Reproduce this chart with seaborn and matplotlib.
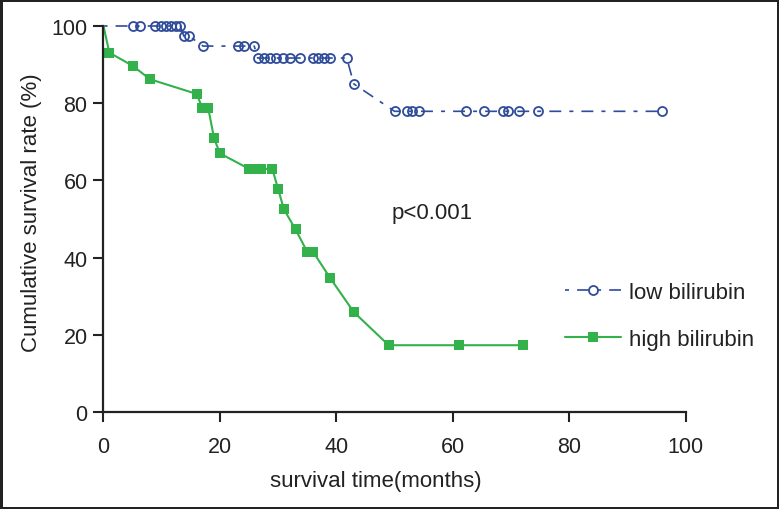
import numpy as np
import pandas as pd
import matplotlib
matplotlib.use("Agg")
import matplotlib.pyplot as plt
import seaborn as sns

# survival data (months, cumulative survival %)
low_months = [0, 5.1, 6.3, 8.8, 9.9, 10.7, 11.6, 12.5, 13.2, 13.8, 14.7,
              17.1, 23.1, 24.1, 25.9,
              26.5, 27.6, 28.6, 29.6, 30.8, 32.0, 33.8, 36.0, 36.9, 37.9, 38.9, 41.8,
              43.0,
              50.0, 52.1, 53.0, 54.2, 62.2, 65.4, 68.6, 69.5, 71.4, 74.6, 95.9]
low_surv = [100] * 9 + [97.4] * 2 + [94.8] * 4 + [91.7] * 12 + [85.0] + [77.9] * 11

high_months = [0, 1, 5, 8, 16, 17, 18, 19, 20, 25, 26, 27, 29, 30, 31, 33,
               35, 36, 39, 43, 49, 61, 72]
high_surv = [100, 93.1, 89.7, 86.2, 82.4, 78.7, 78.7, 70.9, 67.0, 63.0, 63.0,
             63.0, 63.0, 57.8, 52.5, 47.3, 41.5, 41.5, 34.6, 25.9, 17.3, 17.3, 17.3]

series_labels = ["low bilirubin", "high bilirubin"]
x_ticks = [0, 20, 40, 60, 80, 100]
y_ticks = [0, 20, 40, 60, 80, 100]

BLUE = "#2f4c9c"
GREEN = "#33b14a"
INK = "#222222"

sns.set_style("ticks")
plt.rcParams["font.family"] = ["Liberation Sans", "DejaVu Sans"]
plt.rcParams["lines.scale_dashes"] = False

fig = plt.figure(figsize=(7.79, 5.10), dpi=100)
ax = fig.add_axes([103.5 / 779, 1 - 413 / 510, 582 / 779, 386 / 510])

low_df = pd.DataFrame({"months": low_months, "surv": low_surv})
high_df = pd.DataFrame({"months": high_months, "surv": high_surv})

sns.lineplot(data=low_df, x="months", y="surv", ax=ax, color=BLUE,
             estimator=None, sort=False, linewidth=1.2,
             marker="o", markersize=6.5, markerfacecolor="none",
             markeredgecolor=BLUE, markeredgewidth=1.3,
             markevery=list(range(1, len(low_months))),
             label=series_labels[0], clip_on=False)
ax.lines[-1].set_dashes((2.9, 5.8, 8.6, 5.8))

sns.lineplot(data=high_df, x="months", y="surv", ax=ax, color=GREEN,
             estimator=None, sort=False, linewidth=1.5,
             marker="s", markersize=7, markeredgewidth=0,
             markevery=list(range(1, len(high_months))),
             label=series_labels[1], clip_on=False)

ax.set_xlim(0, 100)
ax.set_ylim(0, 100)
ax.set_xticks(x_ticks)
ax.set_yticks(y_ticks)
ax.tick_params(axis="both", labelsize=15.5, width=1.5, length=7.5, pad=4,
               colors=INK, labelcolor=INK)
ax.tick_params(axis="x", pad=10)
for side in ["top", "right"]:
    ax.spines[side].set_visible(False)
for side in ["left", "bottom"]:
    ax.spines[side].set_linewidth(1.6)
    ax.spines[side].set_color(INK)

ax.set_xlabel("survival time(months)", fontsize=16, color=INK)
ax.set_ylabel("Cumulative survival rate (%)", fontsize=16, color=INK)
ax.xaxis.set_label_coords(0.4675, -0.15)
ax.yaxis.set_label_coords(-0.105, 0.52)

ax.text(49.5, 51.8, "p<0.001", fontsize=16, color=INK, va="center", ha="left")

leg = ax.legend(loc="upper left", bbox_to_anchor=(565 / 779, 1 - 283 / 510),
                bbox_transform=fig.transFigure, frameon=False, fontsize=16,
                handlelength=2.5, handletextpad=0.4, labelspacing=1.15,
                borderpad=0, borderaxespad=0)
for t in leg.get_texts():
    t.set_color(INK)

fig.patch.set_edgecolor(INK)
fig.patch.set_linewidth(2.5)

fig.savefig("out.png", dpi=100, edgecolor=fig.get_edgecolor())
